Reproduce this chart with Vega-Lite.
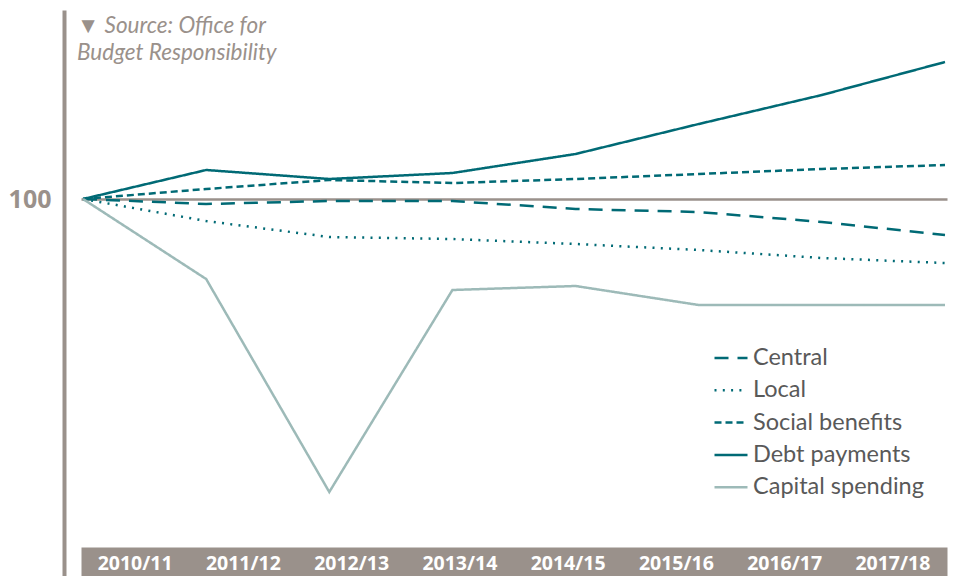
{
  "$schema": "https://vega.github.io/schema/vega-lite/v6.json",
  "autosize": "none",
  "width": 881,
  "height": 566,
  "padding": {"left": 64, "top": 10, "right": 10, "bottom": 0},
  "background": "white",
  "title": {
    "text": ["▼ Source: Office for", "Budget Responsibility"],
    "anchor": "start",
    "frame": "group",
    "orient": "top",
    "baseline": "top",
    "offset": 0,
    "dx": 13,
    "dy": 54,
    "font": "Lato",
    "fontStyle": "italic",
    "fontWeight": "normal",
    "fontSize": 22.5,
    "lineHeight": 27,
    "color": "#9a918b"
  },
  "config": {
    "view": {"stroke": null},
    "font": "Lato"
  },
  "data": {
    "values": [
      {"year": "2010/11", "series": "Central", "value": 100},
      {"year": "2011/12", "series": "Central", "value": 99.5},
      {"year": "2012/13", "series": "Central", "value": 99.8},
      {"year": "2013/14", "series": "Central", "value": 99.8},
      {"year": "2014/15", "series": "Central", "value": 99.0},
      {"year": "2015/16", "series": "Central", "value": 98.7},
      {"year": "2016/17", "series": "Central", "value": 97.7},
      {"year": "2017/18", "series": "Central", "value": 96.4},
      {"year": "2010/11", "series": "Local", "value": 100},
      {"year": "2011/12", "series": "Local", "value": 97.8},
      {"year": "2012/13", "series": "Local", "value": 96.2},
      {"year": "2013/14", "series": "Local", "value": 96.0},
      {"year": "2014/15", "series": "Local", "value": 95.5},
      {"year": "2015/16", "series": "Local", "value": 94.9},
      {"year": "2016/17", "series": "Local", "value": 94.1},
      {"year": "2017/18", "series": "Local", "value": 93.6},
      {"year": "2010/11", "series": "Social benefits", "value": 100},
      {"year": "2011/12", "series": "Social benefits", "value": 101.0},
      {"year": "2012/13", "series": "Social benefits", "value": 101.9},
      {"year": "2013/14", "series": "Social benefits", "value": 101.6},
      {"year": "2014/15", "series": "Social benefits", "value": 102.0},
      {"year": "2015/16", "series": "Social benefits", "value": 102.5},
      {"year": "2016/17", "series": "Social benefits", "value": 103.0},
      {"year": "2017/18", "series": "Social benefits", "value": 103.4},
      {"year": "2010/11", "series": "Debt payments", "value": 100},
      {"year": "2011/12", "series": "Debt payments", "value": 102.9},
      {"year": "2012/13", "series": "Debt payments", "value": 102.0},
      {"year": "2013/14", "series": "Debt payments", "value": 102.6},
      {"year": "2014/15", "series": "Debt payments", "value": 104.5},
      {"year": "2015/16", "series": "Debt payments", "value": 107.5},
      {"year": "2016/17", "series": "Debt payments", "value": 110.4},
      {"year": "2017/18", "series": "Debt payments", "value": 113.7},
      {"year": "2010/11", "series": "Capital spending", "value": 100},
      {"year": "2011/12", "series": "Capital spending", "value": 92.0},
      {"year": "2012/13", "series": "Capital spending", "value": 70.7},
      {"year": "2013/14", "series": "Capital spending", "value": 90.9},
      {"year": "2014/15", "series": "Capital spending", "value": 91.3},
      {"year": "2015/16", "series": "Capital spending", "value": 89.4},
      {"year": "2016/17", "series": "Capital spending", "value": 89.4},
      {"year": "2017/18", "series": "Capital spending", "value": 89.4}
    ]
  },
  "layer": [
    {
      "transform": [{"filter": "datum.series === 'Central'"}],
      "mark": {
        "type": "text",
        "color": "white",
        "font": "Open Sans",
        "fontWeight": "bold",
        "fontSize": 19.5,
        "baseline": "middle",
        "align": "center"
      },
      "encoding": {
        "x": {
          "field": "year",
          "type": "ordinal",
          "scale": {"type": "band", "range": [17, 883], "paddingInner": 0, "paddingOuter": 0},
          "axis": {
            "orient": "bottom",
            "title": null,
            "offset": -14.5,
            "domain": true,
            "domainColor": "#9a918b",
            "domainWidth": 29,
            "domainCap": "butt",
            "ticks": false,
            "grid": false,
            "labels": false
          }
        },
        "y": {"datum": 63.5, "type": "quantitative"},
        "text": {"field": "year"}
      }
    },
    {
      "mark": {"type": "line", "strokeWidth": 2.5},
      "encoding": {
        "x": {
          "field": "year",
          "type": "ordinal",
          "scale": {"type": "point", "range": [19, 881], "padding": 0},
          "axis": null
        },
        "y": {
          "field": "value",
          "type": "quantitative",
          "scale": {"domain": [62.3, 118.9], "nice": false, "zero": false},
          "axis": {
            "values": [100],
            "title": null,
            "grid": true,
            "gridColor": "#9a918b",
            "gridWidth": 2.5,
            "gridOpacity": 1,
            "ticks": false,
            "domain": true,
            "domainColor": "#9a918b",
            "domainWidth": 4,
            "labelFont": "Open Sans",
            "labelFontSize": 25,
            "labelFontWeight": "bold",
            "labelColor": "#9a918b",
            "labelPadding": 13
          }
        },
        "color": {
          "field": "series",
          "type": "nominal",
          "scale": {
            "domain": ["Central", "Local", "Social benefits", "Debt payments", "Capital spending"],
            "range": ["#006a75", "#006a75", "#006a75", "#006a75", "#9dbab8"]
          },
          "legend": {
            "title": null,
            "orient": "none",
            "legendX": 649,
            "legendY": 330,
            "padding": 0,
            "symbolType": "stroke",
            "symbolSize": 1089,
            "symbolStrokeWidth": 2.5,
            "labelFont": "Lato",
            "labelFontSize": 23.5,
            "labelColor": "#595959",
            "labelOffset": 4,
            "labelLimit": 400,
            "rowPadding": 2.3
          }
        },
        "strokeDash": {
          "field": "series",
          "type": "nominal",
          "scale": {
            "domain": ["Central", "Local", "Social benefits", "Debt payments", "Capital spending"],
            "range": [[14, 9], [2, 6.3], [7, 4], [1, 0], [1, 0]]
          },
          "legend": {
            "title": null,
            "orient": "none",
            "legendX": 649,
            "legendY": 330,
            "padding": 0,
            "symbolType": "stroke",
            "symbolSize": 1089,
            "symbolStrokeWidth": 2.5,
            "labelFont": "Lato",
            "labelFontSize": 23.5,
            "labelColor": "#595959",
            "labelOffset": 4,
            "labelLimit": 400,
            "rowPadding": 2.3
          }
        }
      }
    }
  ],
  "resolve": {"scale": {"x": "independent"}}
}
